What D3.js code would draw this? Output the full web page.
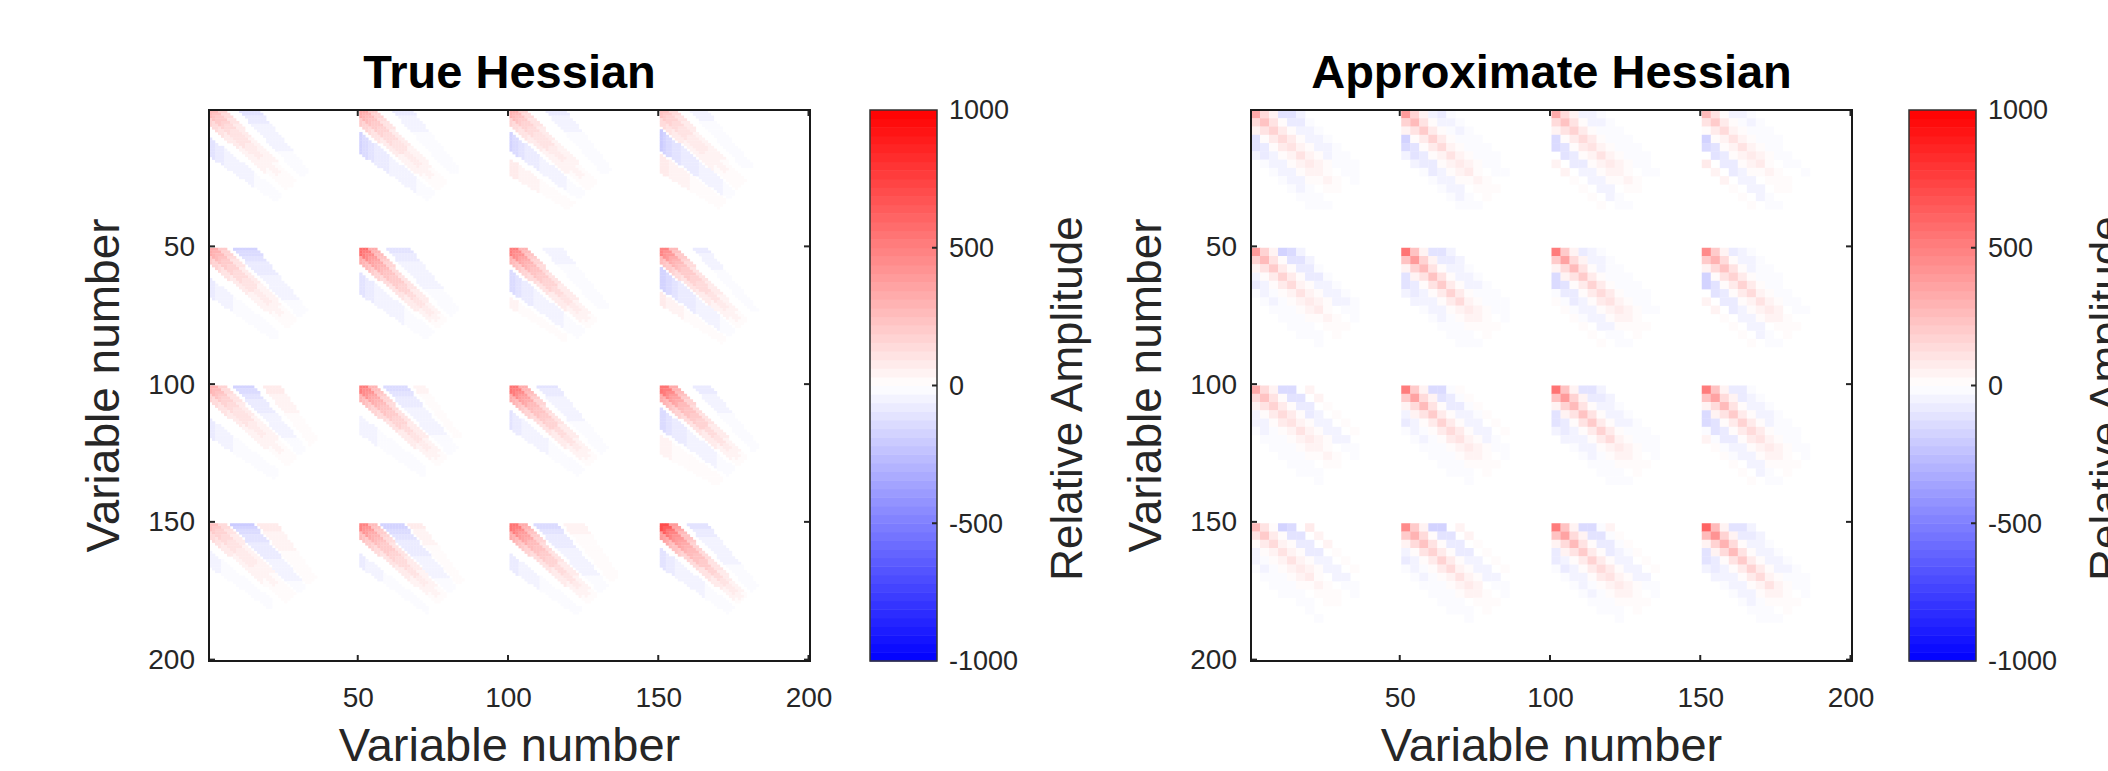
<!DOCTYPE html>
<html>
<head>
<meta charset="utf-8">
<script src="https://cdn.jsdelivr.net/npm/d3@7"></script>
<style>
	body{margin:0;background:#fff;}
	svg{display:block;font-family:"Liberation Sans",Arial,sans-serif;}
</style>
</head>
<body>
<div id="canvas"></div>
<script>
// axis ticks
var axisTicks = [50, 100, 150, 200];
var colorTicks = [-1000, -500, 0, 500, 1000];
var blockStarts = [0, 50, 100, 150];

// True Hessian: per block (row-major, 4x4) a list of bands [kFrom, kTo, value]
// k = column - row inside the block, value read where the band enters the block
var trueBands = [
	[[-16,-10,-110],[-5,-3,160],[-2,2,270],[3,5,160],[10,16,-110]],
	[[-15,-8,-160],[-5,-3,200],[-2,2,340],[3,5,200],[11,17,-70]],
	[[-23,-18,80],[-14,-8,-160],[-5,-3,170],[-2,2,290],[3,5,170],[12,18,-70]],
	[[-22,-16,80],[-14,-7,-190],[-5,-3,140],[-2,2,230],[3,5,140],[10,15,-50]],
	[[-17,-11,-70],[-5,-3,200],[-2,2,340],[3,5,200],[8,15,-160]],
	[[-16,-9,-110],[-5,-3,330],[-2,2,580],[3,5,330],[9,16,-110]],
	[[-21,-18,40],[-15,-8,-140],[-5,-3,300],[-2,2,520],[3,5,300],[11,17,-60]],
	[[-20,-16,70],[-14,-7,-180],[-5,-3,270],[-2,2,470],[3,5,270],[11,15,-70]],
	[[-18,-12,-70],[-5,-3,170],[-2,2,290],[3,5,170],[8,14,-160],[18,23,80]],
	[[-17,-11,-60],[-5,-3,300],[-2,2,520],[3,5,300],[8,15,-140],[18,21,40]],
	[[-15,-9,-100],[-5,-3,320],[-2,2,560],[3,5,320],[9,15,-100]],
	[[-24,-18,50],[-15,-8,-150],[-5,-3,320],[-2,2,560],[3,5,320],[11,16,-80]],
	[[-15,-10,-50],[-5,-3,140],[-2,2,230],[3,5,140],[7,14,-190],[16,22,80]],
	[[-15,-11,-70],[-5,-3,270],[-2,2,470],[3,5,270],[7,14,-180],[16,20,70]],
	[[-16,-11,-80],[-5,-3,320],[-2,2,560],[3,5,320],[8,15,-150],[18,24,50]],
	[[-15,-9,-110],[-5,-3,400],[-2,2,700],[3,5,400],[9,15,-110]]
];
// strength along the bands, per variable from where they enter the block
var trueFade = [1, 0.9, 0.8, 0.7, 0.62, 0.56, 0.5, 0.46, 0.43, 0.4, 0.37, 0.35, 0.33, 0.31,
	0.29, 0.27, 0.25, 0.23, 0.21, 0.19, 0.17, 0.15, 0.13, 0.11, 0.09, 0.07, 0.05, 0.03];
var bandNarrowing = 0.015;   // bands close in on the diagonal further down
var bandReach = 54;          // row + column where the bands die out

// Approximate Hessian: 3-variable cells, per block values at cell offset K = -6..7
var approxProfiles = [
	[0,-40,-110,-120,40,150,330,150,40,-110,-100,-40,0,0],
	[0,-60,-150,-160,40,170,380,170,40,-60,-70,-30,0,0],
	[60,0,-140,-150,40,150,340,150,40,-60,-60,-30,0,0],
	[70,0,-150,-160,30,120,280,120,30,-40,-50,-20,0,0],
	[0,-30,-70,-60,40,170,380,170,40,-160,-150,-60,0,0],
	[0,-50,-100,-100,50,230,540,230,50,-100,-100,-50,0,0],
	[30,-20,-130,-140,50,210,500,210,50,-70,-60,-30,0,0],
	[60,0,-160,-170,40,190,440,190,40,-70,-60,-20,0,0],
	[0,-30,-60,-60,40,150,340,150,40,-150,-140,0,60,0],
	[0,-30,-70,-60,50,210,500,210,50,-140,-130,-20,30,0],
	[0,-50,-100,-100,50,230,540,230,50,-100,-100,-50,0,0],
	[40,-20,-140,-150,50,220,520,220,50,-90,-80,-30,0,0],
	[0,-20,-50,-40,30,120,280,120,30,-160,-150,0,70,0],
	[0,-30,-70,-60,40,190,440,190,40,-170,-160,0,60,0],
	[0,-30,-90,-80,50,220,520,220,50,-150,-140,-20,40,0],
	[0,-60,-120,-120,60,260,600,260,60,-120,-120,-60,0,0]
];
var approxFade = [1, 0.7, 0.5, 0.42, 0.36, 0.3, 0.24, 0.17, 0.1, 0.05];

var W = 2108, H = 771;
var TOP = 110, PLOT_W = 601, PLOT_H = 551, CB_W = 67;

var panels = [
	{title: "True Hessian", left: 209, cbLeft: 870, kind: "true"},
	{title: "Approximate Hessian", left: 1251, cbLeft: 1909, kind: "approx"}
];

var svg = d3.select("#canvas")
	.append("svg")
	.attr("width", W)
	.attr("height", H);

// blue - white - red map with 64 steps
var baseColor = d3.scaleLinear()
	.domain([-1000, 0, 1000])
	.range(["#0000ff", "#ffffff", "#ff0000"]);
var steps = d3.range(64).map(function(i){
	return baseColor(-1000 + (i + 0.5) * 2000 / 64);
});
var colorScale = d3.scaleQuantize()
	.domain([-1000, 1000])
	.range(steps);

function trueCells(){
	var cells = [];
	trueBands.forEach(function(bands, b){
		var r0 = blockStarts[Math.floor(b / 4)], c0 = blockStarts[b % 4];
		for(var i = 0; i < 40; i++){
			for(var j = 0; j < 40; j++){
				var t = Math.min(i, j);
				if(i + j > bandReach || t >= trueFade.length) continue;
				var k = (j - i) / (1 - bandNarrowing * t);
				var band = bands.find(function(d){ return k >= d[0] - 0.5 && k < d[1] + 0.5; });
				if(!band) continue;
				cells.push({row: r0 + i + 1, col: c0 + j + 1, size: 1, value: band[2] * trueFade[t]});
			}
		}
	});
	return cells;
}

function approxCells(){
	var cells = [];
	approxProfiles.forEach(function(prof, b){
		var r0 = blockStarts[Math.floor(b / 4)], c0 = blockStarts[b % 4];
		for(var I = 0; I < 12; I++){
			for(var J = 0; J < 12; J++){
				var K = J - I, T = Math.min(I, J);
				if(K < -6 || K > 7 || T >= approxFade.length) continue;
				var v = prof[K + 6] * approxFade[T];
				if(v === 0) continue;
				cells.push({row: r0 + I * 3 + 1, col: c0 + J * 3 + 1, size: 3, value: v});
			}
		}
	});
	return cells;
}

panels.forEach(function(p){
	var g = svg.append("g")
		.attr("transform", "translate(" + p.left + "," + TOP + ")");

	var x = d3.scaleLinear().domain([0.5, 200.5]).range([0, PLOT_W]);
	var y = d3.scaleLinear().domain([0.5, 200.5]).range([0, PLOT_H]);

	var cells = p.kind === "true" ? trueCells() : approxCells();

	g.append("g")
		.selectAll("rect")
		.data(cells.filter(function(d){ return Math.abs(d.value) > 8; }))
		.enter()
		.append("rect")
		.attr("x", function(d){ return x(d.col - 0.5); })
		.attr("y", function(d){ return y(d.row - 0.5); })
		.attr("width", function(d){ return x(d.col - 0.5 + d.size) - x(d.col - 0.5) + 0.3; })
		.attr("height", function(d){ return y(d.row - 0.5 + d.size) - y(d.row - 0.5) + 0.3; })
		.attr("fill", function(d){ return colorScale(d.value); });

	// ticks inside the box, on all four sides
	var tickLen = 6;
	var xAxisB = d3.axisBottom(x).tickValues(axisTicks).tickSize(0).tickPadding(26);
	var gx = g.append("g")
		.attr("transform", "translate(0," + PLOT_H + ")")
		.call(xAxisB);
	gx.select(".domain").remove();
	gx.selectAll("text")
		.attr("font-size", 28)
		.attr("font-family", "Liberation Sans, Arial, sans-serif")
		.attr("fill", "#262626");

	var yAxisL = d3.axisLeft(y).tickValues(axisTicks).tickSize(0).tickPadding(14);
	var gy = g.append("g").call(yAxisL);
	gy.select(".domain").remove();
	gy.selectAll("text")
		.attr("font-size", 28)
		.attr("font-family", "Liberation Sans, Arial, sans-serif")
		.attr("fill", "#262626");

	var tickG = g.append("g").attr("stroke", "#262626").attr("stroke-width", 2);
	axisTicks.forEach(function(t){
		tickG.append("line").attr("x1", x(t)).attr("x2", x(t)).attr("y1", PLOT_H).attr("y2", PLOT_H - tickLen);
		tickG.append("line").attr("x1", x(t)).attr("x2", x(t)).attr("y1", 0).attr("y2", tickLen);
		tickG.append("line").attr("y1", y(t)).attr("y2", y(t)).attr("x1", 0).attr("x2", tickLen);
		tickG.append("line").attr("y1", y(t)).attr("y2", y(t)).attr("x1", PLOT_W).attr("x2", PLOT_W - tickLen);
	});

	g.append("rect")
		.attr("width", PLOT_W)
		.attr("height", PLOT_H)
		.attr("fill", "none")
		.attr("stroke", "#1a1a1a")
		.attr("stroke-width", 2);

	g.append("text")
		.attr("x", PLOT_W / 2)
		.attr("y", 88 - TOP)
		.attr("text-anchor", "middle")
		.attr("font-size", 47)
		.attr("font-weight", "bold")
		.attr("fill", "#000")
		.text(p.title);

	g.append("text")
		.attr("x", PLOT_W / 2)
		.attr("y", 761 - TOP)
		.attr("text-anchor", "middle")
		.attr("font-size", 47)
		.attr("fill", "#262626")
		.text("Variable number");

	g.append("text")
		.attr("transform", "translate(" + (119 - 209) + "," + (PLOT_H / 2) + ") rotate(-90)")
		.attr("text-anchor", "middle")
		.attr("font-size", 46)
		.attr("fill", "#262626")
		.text("Variable number");

	// colorbar
	var cb = svg.append("g")
		.attr("transform", "translate(" + p.cbLeft + "," + TOP + ")");
	var cy = d3.scaleLinear().domain([-1000, 1000]).range([PLOT_H, 0]);
	var stepH = 2000 / 64;
	cb.selectAll("rect.step")
		.data(steps)
		.enter()
		.append("rect")
		.attr("class", "step")
		.attr("x", 0)
		.attr("width", CB_W)
		.attr("y", function(d, i){ return cy(-1000 + (i + 1) * stepH); })
		.attr("height", function(d, i){ return cy(-1000 + i * stepH) - cy(-1000 + (i + 1) * stepH) + 0.5; })
		.attr("fill", function(d){ return d; });
	cb.append("rect")
		.attr("width", CB_W)
		.attr("height", PLOT_H)
		.attr("fill", "none")
		.attr("stroke", "#333")
		.attr("stroke-width", 1.5);
	colorTicks.forEach(function(t){
		if(t !== 1000 && t !== -1000){
			cb.append("line")
				.attr("x1", CB_W).attr("x2", CB_W - 5)
				.attr("y1", cy(t)).attr("y2", cy(t))
				.attr("stroke", "#262626").attr("stroke-width", 2);
		}
		cb.append("text")
			.attr("x", CB_W + 12)
			.attr("y", cy(t))
			.attr("dy", "0.35em")
			.attr("font-size", 27)
			.attr("fill", "#262626")
			.text(t);
	});
	cb.append("text")
		.attr("transform", "translate(" + (CB_W + 145) + "," + (PLOT_H / 2 + 13) + ") rotate(-90)")
		.attr("text-anchor", "middle")
		.attr("font-size", 44)
		.attr("fill", "#262626")
		.text("Relative Amplitude");
});
</script>
</body>
</html>
